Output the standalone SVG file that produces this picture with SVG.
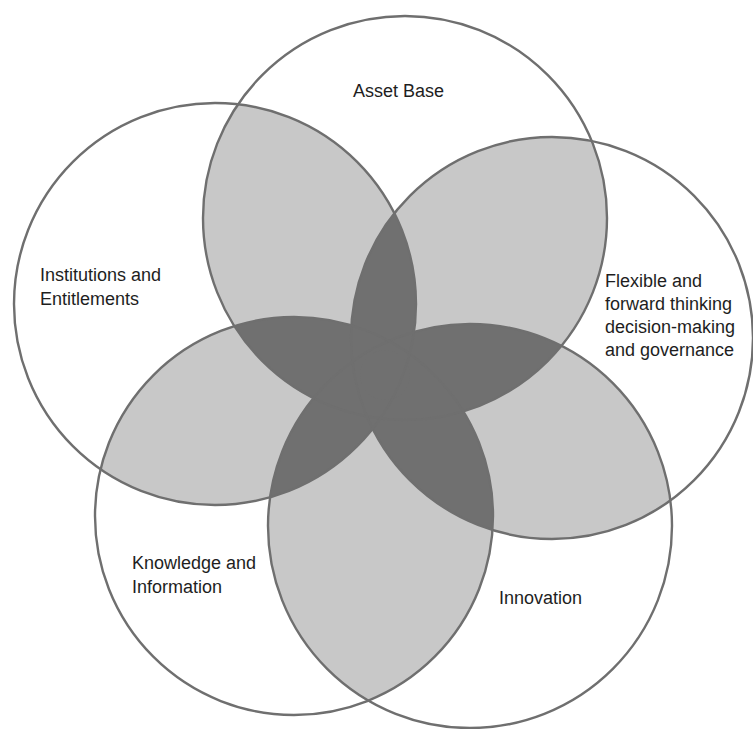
<svg xmlns="http://www.w3.org/2000/svg" xmlns:xlink="http://www.w3.org/1999/xlink" width="753" height="729" viewBox="0 0 753 729">
<style>
.outline{fill:none;stroke:#6f6f6f;stroke-width:2.4}
.lt{fill:#c8c8c8}
.dk{fill:#707070}
.lbl{font-family:"Liberation Sans",Arial,sans-serif;font-size:18px;fill:#1e1e1e}
</style>
<defs>
<circle id="c0" cx="405" cy="218" r="202"/>
<circle id="c1" cx="552" cy="338" r="201"/>
<circle id="c2" cx="470" cy="526" r="202"/>
<circle id="c3" cx="294" cy="516" r="199"/>
<circle id="c4" cx="215" cy="304" r="201"/>
<clipPath id="k0"><use href="#c0"/></clipPath>
<clipPath id="k1"><use href="#c1"/></clipPath>
<clipPath id="k2"><use href="#c2"/></clipPath>
<clipPath id="k3"><use href="#c3"/></clipPath>
<clipPath id="k4"><use href="#c4"/></clipPath>
<g id="triples">
<g clip-path="url(#k0)"><g clip-path="url(#k1)"><use href="#c2"/><use href="#c3"/><use href="#c4"/></g></g>
<g clip-path="url(#k0)"><g clip-path="url(#k2)"><use href="#c3"/><use href="#c4"/></g></g>
<g clip-path="url(#k0)"><g clip-path="url(#k3)"><use href="#c4"/></g></g>
<g clip-path="url(#k1)"><g clip-path="url(#k2)"><use href="#c3"/><use href="#c4"/></g></g>
<g clip-path="url(#k1)"><g clip-path="url(#k3)"><use href="#c4"/></g></g>
<g clip-path="url(#k2)"><g clip-path="url(#k3)"><use href="#c4"/></g></g>
</g>
</defs>
<rect width="753" height="729" fill="#ffffff"/>
<g id="overlaps-pair" class="lt">
<g clip-path="url(#k0)"><use href="#c1"/><use href="#c2"/><use href="#c3"/><use href="#c4"/></g>
<g clip-path="url(#k1)"><use href="#c2"/><use href="#c3"/><use href="#c4"/></g>
<g clip-path="url(#k2)"><use href="#c3"/><use href="#c4"/></g>
<g clip-path="url(#k3)"><use href="#c4"/></g>
</g>
<g id="overlaps-triple" class="dk">
<use href="#triples"/>
<use href="#triples"/>
<circle cx="385" cy="375" r="25"/>
</g>
<g id="asset-base"><use href="#c0" class="outline"/><text class="lbl" x="353" y="97">Asset Base</text></g>
<g id="flexible"><use href="#c1" class="outline"/><text class="lbl" x="605" y="287">Flexible and<tspan x="605" y="310">forward thinking</tspan><tspan x="605" y="333">decision-making</tspan><tspan x="605" y="356">and governance</tspan></text></g>
<g id="innovation"><use href="#c2" class="outline"/><text class="lbl" x="499" y="604">Innovation</text></g>
<g id="knowledge"><use href="#c3" class="outline"/><text class="lbl" x="132" y="569">Knowledge and<tspan x="132" y="593">Information</tspan></text></g>
<g id="institutions"><use href="#c4" class="outline"/><text class="lbl" x="40" y="281">Institutions and<tspan x="40" y="305">Entitlements</tspan></text></g>
</svg>
